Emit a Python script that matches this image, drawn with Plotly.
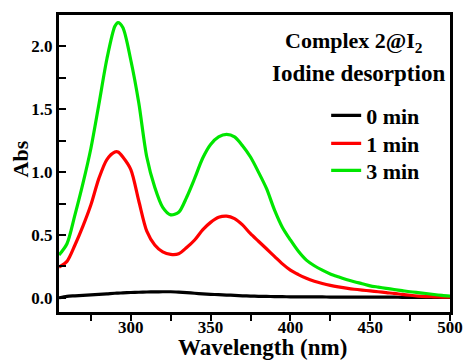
import plotly.graph_objects as go

wavelength = [255, 260, 265, 270, 275, 280, 285, 290, 292, 295, 300, 305, 310, 315, 320, 325, 330,
              335, 340, 345, 350, 355, 360, 365, 370, 375, 380, 385, 390, 395, 400, 405, 410,
              415, 420, 425, 430, 435, 440, 445, 450, 455, 460, 465, 470, 475, 480, 485, 490,
              495, 500]

abs_0min = [0.000, 0.012, 0.016, 0.020, 0.024, 0.028, 0.032, 0.036, 0.037, 0.039, 0.042, 0.044, 0.046,
            0.047, 0.048, 0.048, 0.045, 0.041, 0.036, 0.032, 0.028, 0.025, 0.022, 0.019, 0.016,
            0.014, 0.012, 0.011, 0.010, 0.009, 0.008, 0.008, 0.007, 0.007, 0.007, 0.006, 0.006,
            0.006, 0.006, 0.006, 0.006, 0.005, 0.005, 0.005, 0.004, 0.004, 0.004, 0.004, 0.003,
            0.003, 0.003]

abs_1min = [0.245, 0.290, 0.420, 0.570, 0.740, 0.950, 1.100, 1.160, 1.160, 1.120, 1.020, 0.770, 0.530,
            0.420, 0.365, 0.345, 0.350, 0.400, 0.460, 0.540, 0.600, 0.640, 0.650, 0.630, 0.580,
            0.510, 0.450, 0.390, 0.330, 0.270, 0.220, 0.185, 0.155, 0.132, 0.114, 0.099, 0.087,
            0.077, 0.068, 0.061, 0.055, 0.048, 0.041, 0.035, 0.027, 0.020, 0.014, 0.010, 0.008,
            0.006, 0.005]

abs_3min = [0.340, 0.430, 0.660, 0.910, 1.190, 1.540, 1.900, 2.160, 2.190, 2.150, 1.890, 1.550, 1.120,
            0.880, 0.720, 0.660, 0.680, 0.800, 0.950, 1.110, 1.220, 1.280, 1.300, 1.280, 1.210,
            1.120, 1.000, 0.870, 0.700, 0.560, 0.460, 0.370, 0.300, 0.255, 0.220, 0.190, 0.167,
            0.146, 0.128, 0.112, 0.095, 0.085, 0.075, 0.066, 0.057, 0.048, 0.041, 0.034, 0.026,
            0.019, 0.013]

series_names = ["0 min", "1 min", "3 min"]
series_values = [abs_0min, abs_1min, abs_3min]
series_colors = ["#000000", "#ff0000", "#00e600"]

x_ticks = [300, 350, 400, 450, 500]
y_ticks = [0.0, 0.5, 1.0, 1.5, 2.0]

FONT = "Liberation Serif"
PLOT_L, PLOT_T, PLOT_W, PLOT_H = 59, 14, 401, 298


def px_x(px):
    return (px - PLOT_L) / PLOT_W


def px_y(py):
    return (PLOT_T + PLOT_H - py) / PLOT_H


legend_ids = ["legend", "legend2", "legend3"]
legend_rows = [115, 143, 170]

fig = go.Figure()
for name, vals, col, lid in zip(series_names, series_values, series_colors, legend_ids):
    fig.add_trace(go.Scatter(
        x=wavelength, y=vals, mode="lines", name=name, legend=lid,
        line=dict(color=col, width=3.2, shape="spline", smoothing=0.8),
    ))

legend_layout = {}
for lid, row in zip(legend_ids, legend_rows):
    legend_layout[lid] = dict(
        x=px_x(333), y=px_y(row), xanchor="left", yanchor="middle",
        bgcolor="rgba(0,0,0,0)", font=dict(family=FONT, size=22, weight="bold"),
    )

fig.update_layout(
    width=475, height=361,
    margin=dict(l=PLOT_L, r=475 - PLOT_L - PLOT_W, t=PLOT_T, b=361 - PLOT_T - PLOT_H),
    paper_bgcolor="white", plot_bgcolor="white",
    font=dict(family=FONT, color="black", size=17, weight="bold"),
    showlegend=True,
    **legend_layout,
    xaxis=dict(
        range=[255, 500], tickvals=x_ticks, ticks="outside", ticklen=6, tickwidth=2,
        tickcolor="black", showline=True, linewidth=3, linecolor="black", mirror=True,
        showgrid=False, zeroline=False, ticklabelstandoff=-8,
        minor=dict(dtick=25, tick0=275, ticks="outside", ticklen=6, tickwidth=2, tickcolor="black"),
        tickfont=dict(size=17, family=FONT, weight="bold"),
    ),
    yaxis=dict(
        range=[-0.113, 2.25], tickvals=y_ticks, tickformat=".1f", ticks="inside", ticklen=7,
        tickwidth=2, tickcolor="black", showline=True, linewidth=3, linecolor="black",
        mirror=True, showgrid=False, zeroline=False,
        minor=dict(dtick=0.25, tick0=0, ticks="inside", ticklen=7, tickwidth=2, tickcolor="black"),
        tickfont=dict(size=17, family=FONT, weight="bold"),
    ),
    annotations=[
        dict(text="Wavelength (nm)", xref="paper", yref="paper", x=px_x(268),
             y=px_y(348), xanchor="center", yanchor="middle", showarrow=False,
             font=dict(size=23, family=FONT, weight="bold")),
        dict(text="Abs", xref="paper", yref="paper", x=px_x(20), y=px_y(158),
             xanchor="center", yanchor="middle", textangle=-90, showarrow=False,
             font=dict(size=22, family=FONT, weight="bold")),
        dict(text="Complex 2@I<sub>2</sub>", xref="paper", yref="paper", x=px_x(362),
             y=px_y(41), xanchor="center", yanchor="middle", showarrow=False,
             font=dict(size=22, family=FONT, weight="bold")),
        dict(text="Iodine desorption", xref="paper", yref="paper", x=px_x(366),
             y=px_y(73), xanchor="center", yanchor="middle", showarrow=False,
             font=dict(size=23, family=FONT, weight="bold")),
    ],
)

fig.write_html("out.html")
